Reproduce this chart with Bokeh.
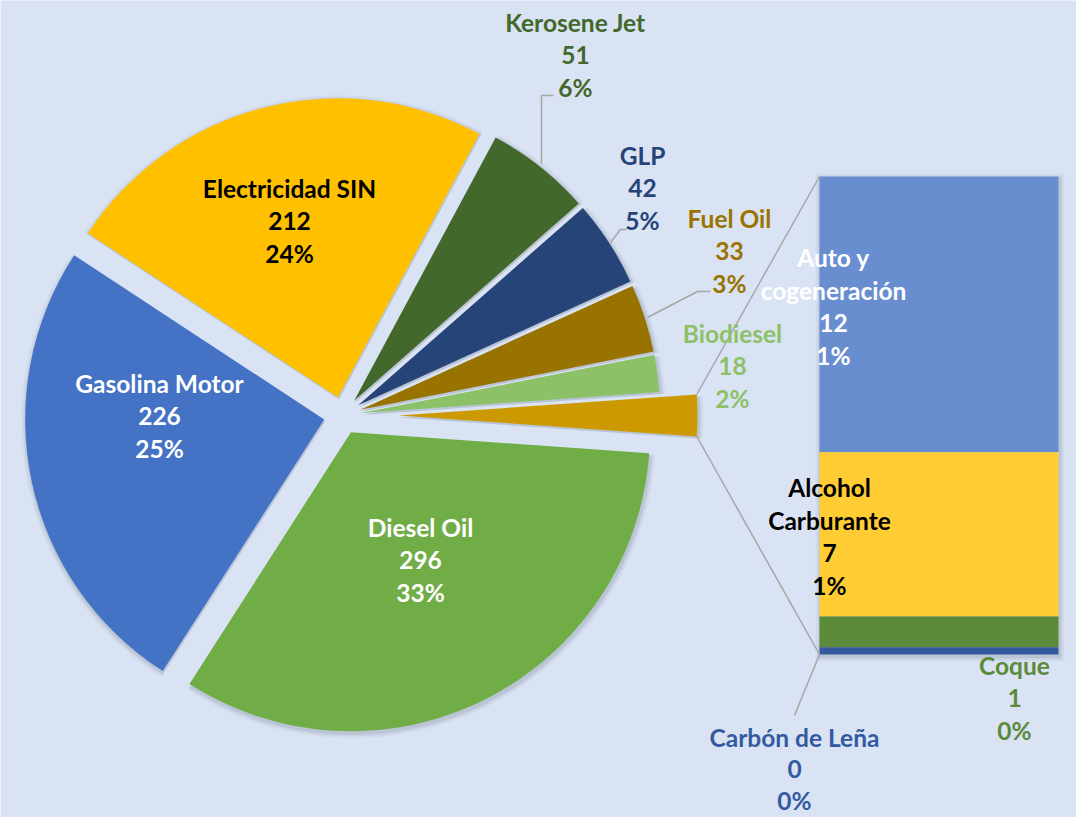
import numpy as np
from bokeh.plotting import figure
from bokeh.models import Range1d, ColumnDataSource
from bokeh.embed import file_html
from bokeh.resources import INLINE
from bokeh.core.properties import value

# ---------------- data ----------------
pie_names = ["Diesel Oil", "Gasolina Motor", "Electricidad SIN", "Kerosene Jet", "GLP", "Fuel Oil", "Biodiesel"]
pie_values = [296, 226, 212, 51, 42, 33, 18]
pie_pct = ["33%", "25%", "24%", "6%", "5%", "3%", "2%"]

bar_names = ["Auto y\ncogeneración", "Alcohol\nCarburante", "Coque", "Carbón de Leña"]
bar_values = [11.6, 6.9, 1.3, 0.3]
bar_pct = ["1%", "1%", "0%", "0%"]

# ---------------- style ----------------
BG = "#DAE3F3"
pie_colors = ["#70AD47", "#4472C4", "#FFC000", "#43682B", "#264478", "#997300", "#8CC168"]
pie_label_colors = ["white", "white", "black", "#43682B", "#264478", "#997300", "#8CC168"]
other_color = "#CC9A00"
bar_colors = ["#698ED0", "#FFCD33", "#5B8A3B", "#335AA1"]
bar_label_colors = ["white", "black", "#5B8A3B", "#335AA1"]

FONT = "Lato"
FSIZE = "24.5px"
LINE = 32.5

W, H = 1076, 817
def sy(y):  # screen y -> data y
    return H - y

# label positions (screen coords of first line centre)
pie_label_pos = [(420, 527), (159, 383), (289, 188), (575, 22), (642, 155), (729, 218), (732, 333)]
bar_label_pos = [(833, 257), (829, 487), (1014, 665), (794, 737)]

# geometry
cx, cy = 342, sy(415)
R = 299
d_main = 18.7
d_other = 56
bar_x0, bar_x1 = 819, 1058
bar_top_s, bar_bot_s = 176, 654

p = figure(width=W, height=H, x_range=Range1d(0, W), y_range=Range1d(0, H),
           output_backend="svg", toolbar_location=None, min_border=0,
           background_fill_color=BG, border_fill_color=BG, outline_line_color=None)
p.axis.visible = False
p.grid.visible = False

total = sum(pie_values) + sum(bar_values)
other = sum(bar_values)
other_span = other / total * 2 * np.pi

# ---- pie wedges (counterclockwise from the "other" slice at 3 o'clock) ----
starts, ends, xs, ys, cols = [], [], [], [], []
a = other_span / 2
for i in reversed(range(len(pie_values))):
    span = pie_values[i] / total * 2 * np.pi
    mid = a + span / 2
    starts.append(a); ends.append(a + span)
    xs.append(cx + d_main * np.cos(mid)); ys.append(cy + d_main * np.sin(mid))
    cols.append(pie_colors[i])
    a += span
# other slice
starts.append(-other_span / 2); ends.append(other_span / 2)
xs.append(cx + d_other); ys.append(cy); cols.append(other_color)

src = ColumnDataSource(dict(x=xs, y=ys, s=starts, e=ends, c=cols))
# soft shadows
for k, al in [(5, 0.05), (3, 0.07), (1.5, 0.09)]:
    sh = ColumnDataSource(dict(x=[v + 1 for v in xs], y=[v - 2 for v in ys], s=starts, e=ends))
    p.wedge(x="x", y="y", radius=R + k, start_angle="s", end_angle="e", source=sh,
            fill_color="#3A4A66", fill_alpha=al, line_color=None)
p.wedge(x="x", y="y", radius=R, start_angle="s", end_angle="e", source=src,
        fill_color="c", line_color=None)

# ---- stacked bar on its own value range ----
upp = other / (bar_bot_s - bar_top_s)
bot_d, top_d = sy(bar_bot_s), sy(bar_top_s)
p.extra_y_ranges = {"bar": Range1d(-bot_d * upp, other + (H - top_d) * upp)}
bottoms, tops = [], []
acc = 0.0
for v in reversed(bar_values):
    bottoms.insert(0, acc); acc += v; tops.insert(0, acc)
for k, al in [(5, 0.05), (3, 0.07), (1.5, 0.09)]:
    p.quad(left=bar_x0 - k + 1, right=bar_x1 + k + 1, bottom=-k * upp - 2 * upp, top=other + k * upp - 2 * upp,
           y_range_name="bar", fill_color="#3A4A66", fill_alpha=al, line_color=None)
bsrc = ColumnDataSource(dict(b=bottoms, t=tops, c=bar_colors))
p.quad(left=bar_x0, right=bar_x1, bottom="b", top="t", fill_color="c", line_color=None,
       source=bsrc, y_range_name="bar")

# ---- connector lines ----
half = other_span / 2
c_top = (cx + d_other + R * np.cos(half), cy + R * np.sin(half))
c_bot = (cx + d_other + R * np.cos(half), cy - R * np.sin(half))
p.segment(x0=[c_top[0], c_bot[0]], y0=[c_top[1], c_bot[1]],
          x1=[bar_x0, bar_x0], y1=[top_d, bot_d], line_color="#A6A6A6", line_width=1.5)

# ---- leader lines ----
leaders = [[(541, 163), (541, 95), (553, 95)],
           [(610, 242), (620, 229), (626, 229)],
           [(647, 317), (697, 291), (710, 291)],
           [(819, 654), (794, 715)]]
p.multi_line(xs=[[pt[0] for pt in L] for L in leaders], ys=[[sy(pt[1]) for pt in L] for L in leaders],
             line_color="#A6A6A6", line_width=1.5)

# ---- labels ----
tx, ty, tt, tc = [], [], [], []
def add_label(lines, pos, color, step=LINE):
    for j, ln in enumerate(lines):
        tx.append(pos[0]); ty.append(sy(pos[1] + j * step)); tt.append(ln); tc.append(color)

for i, n in enumerate(pie_names):
    add_label([n, f"{round(pie_values[i])}", pie_pct[i]], pie_label_pos[i], pie_label_colors[i])
for i, n in enumerate(bar_names):
    step = 31.5 if i == 3 else LINE
    add_label(n.split("\n") + [f"{round(bar_values[i])}", bar_pct[i]], bar_label_pos[i], bar_label_colors[i], step)

tsrc = ColumnDataSource(dict(x=tx, y=ty, t=tt, c=tc))
p.text(x="x", y="y", text="t", text_color="c", source=tsrc, text_font=value(FONT),
       text_font_size=FSIZE, text_font_style="bold", text_align="center", text_baseline="middle")

open("out.html", "w").write(file_html(p, INLINE))
